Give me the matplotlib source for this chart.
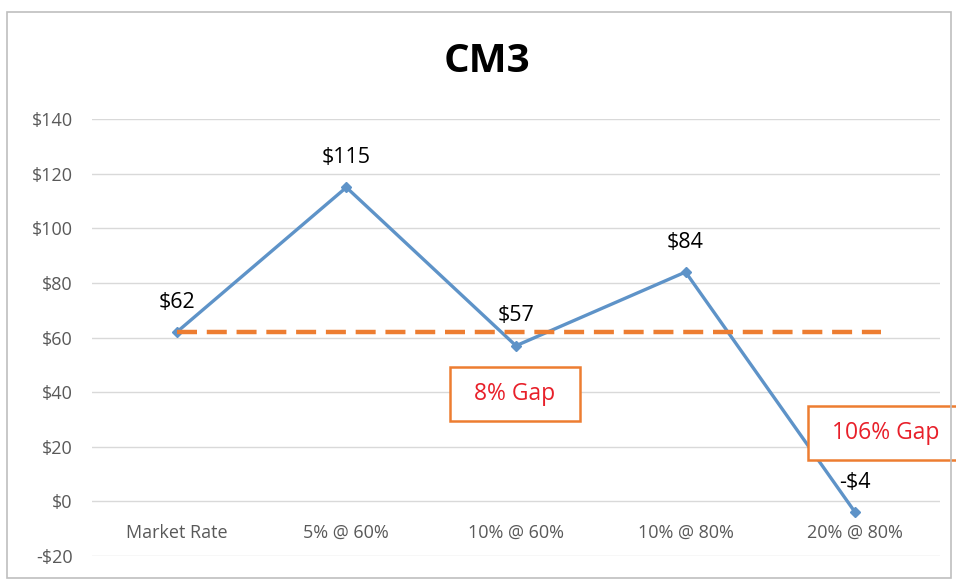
import matplotlib.pyplot as plt
from matplotlib.patches import Rectangle
from matplotlib.ticker import FuncFormatter

# -- data

categories = ['Market Rate', '5% @ 60%', '10% @ 60%', '10% @ 80%', '20% @ 80%']
values = [62, 115, 57, 84, -4]
value_labels = ['$62', '$115', '$57', '$84', '-$4']
benchmark = 62
benchmark_span = [0, 4.15]
gap_notes = ['8% Gap', '106% Gap']
# callout boxes: (x0, x1, y0, y1) in data units
gap_boxes = [(1.61, 2.38, 29.3, 49.1), (3.72, 4.60, 15.0, 34.8)]
gap_text_x = [1.99, 4.18]

plt.rcParams['font.family'] = ['Open Sans', 'DejaVu Sans']

fig = plt.figure(figsize=(9.56, 5.81), dpi=100)
ax = fig.add_axes([0.0962, 0.043, 0.887, 0.752])

# outer chart border
fig.patches.append(Rectangle((0.007, 0.005), 0.988, 0.975, transform=fig.transFigure,
                             fill=False, edgecolor='#bfbfbf', linewidth=1.2))

ax.plot(range(len(values)), values, color='#5e93c8', linewidth=2.4,
        marker='D', markersize=5, zorder=3)

ax.plot(benchmark_span, [benchmark, benchmark], color='#ed7d31', linewidth=3.2,
        linestyle=(0, (4.5, 2.2)), zorder=4)

for i, (v, lab) in enumerate(zip(values, value_labels)):
    ax.annotate(lab, (i, v), xytext=(0, 14), textcoords='offset points',
                ha='center', va='bottom', fontsize=15.5, color='#000000', zorder=5)

for note, (x0, x1, y0, y1), tx in zip(gap_notes, gap_boxes, gap_text_x):
    ax.add_patch(Rectangle((x0, y0), x1 - x0, y1 - y0, facecolor='white',
                           edgecolor='#ed7d31', linewidth=1.8, zorder=6, clip_on=False))
    ax.text(tx, (y0 + y1) / 2, note, fontsize=16.5, color='#e8202a',
            ha='center', va='center', zorder=7, clip_on=False)

ax.set_xlim(-0.5, 4.5)
ax.set_ylim(-20, 140)
ax.set_yticks(range(-20, 141, 20))
ax.yaxis.set_major_formatter(FuncFormatter(lambda v, p: ('-$%d' % -v) if v < 0 else '$%d' % v))
ax.set_xticks(range(len(categories)))
ax.set_xticklabels(categories)

ax.grid(axis='y', color='#d9d9d9', linewidth=1.0)
ax.set_axisbelow(True)
for s in ['top', 'right', 'left']:
    ax.spines[s].set_visible(False)
ax.spines['bottom'].set_position(('data', 0))
ax.spines['bottom'].set_visible(False)
ax.tick_params(axis='both', length=0, labelsize=13, labelcolor='#595959')
ax.tick_params(axis='x', pad=16)
ax.tick_params(axis='y', pad=14)

fig.text(0.509, 0.895, 'CM3', ha='center', va='center', fontsize=29,
         fontweight='bold', color='#000000')

fig.savefig('out.png', dpi=100)
